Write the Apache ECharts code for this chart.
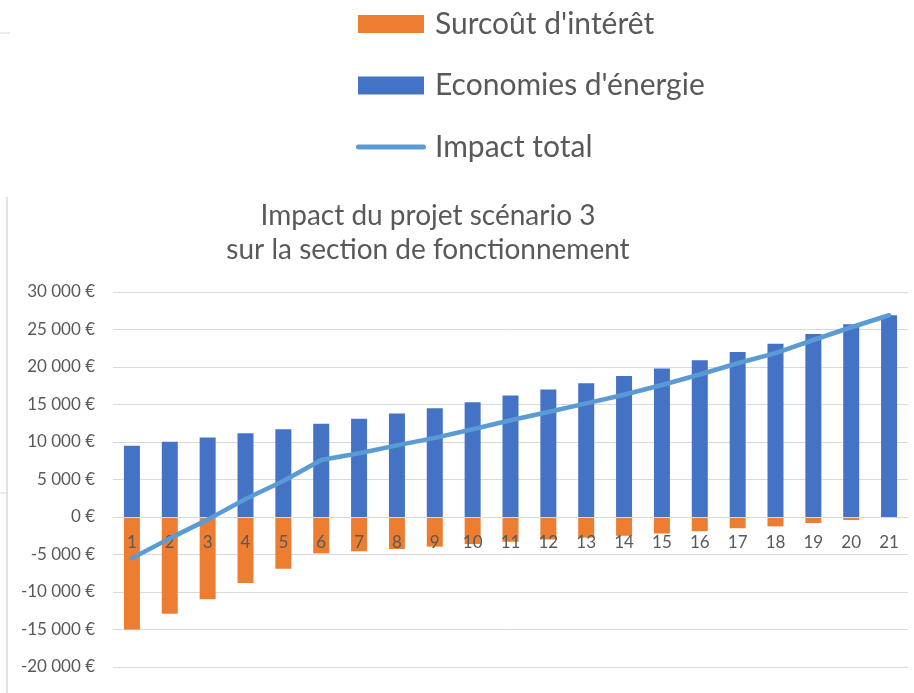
<!DOCTYPE html>
<html>
<head>
<meta charset="utf-8">
<script src="https://cdn.jsdelivr.net/npm/echarts@6/dist/echarts.min.js"></script>
<style>
  html, body { margin: 0; padding: 0; background: #fff; }
  #chart { width: 914px; height: 693px; }
</style>
</head>
<body>
<div id="chart"></div>
<script>
// années
const years = ['1', '2', '3', '4', '5', '6', '7', '8', '9', '10', '11', '12', '13', '14', '15', '16', '17', '18', '19', '20', '21'];

// surcoût d'intérêt (négatif)
const surcout = [-15000, -12900, -10950, -8800, -6900, -4850, -4570, -4260, -3950, -3600, -3300, -3000, -2750, -2500, -2200, -1900, -1500, -1250, -800, -400, 0];

// économies d'énergie
const economies = [9500, 10050, 10600, 11170, 11700, 12450, 13100, 13800, 14500, 15300, 16200, 17000, 17850, 18800, 19800, 20900, 22000, 23100, 24400, 25700, 26900];

// impact total
const impact = [-5500, -2850, -350, 2400, 4800, 7600, 8500, 9550, 10550, 11700, 12900, 14000, 15150, 16300, 17600, 19000, 20500, 21850, 23600, 25300, 26900];

const FONT = 'Lato, "Liberation Sans", sans-serif';
const GREY = '#595959';

// 30000 -> "30 000 €"
function euro(v) {
  const s = Math.abs(v).toString().replace(/\B(?=(\d{3})+(?!\d))/g, '\u202f');
  return (v < 0 ? '-' : '') + s + ' €';
}

const chart = echarts.init(document.getElementById('chart'));

const option = {
  animation: false,
  textStyle: { fontFamily: FONT },
  title: {
    text: 'Impact du projet scénario 3\nsur la section de fonctionnement',
    left: 428,
    top: 199,
    textAlign: 'center',
    padding: 0,
    textStyle: {
      fontFamily: FONT,
      fontSize: 28,
      fontWeight: 'normal',
      color: GREY,
      lineHeight: 34,
    },
  },
  legend: {
    orient: 'vertical',
    left: 356,
    top: 9,
    padding: 0,
    itemWidth: 70,
    itemHeight: 18,
    itemGap: 31.5,
    textStyle: {
      fontFamily: FONT,
      fontSize: 30,
      color: GREY,
      padding: [0, 0, 0, 4],
    },
    data: [
      { name: "Surcoût d'intérêt", icon: 'path://M2,0 L68,0 L68,18 L2,18 Z' },
      { name: "Economies d'énergie", icon: 'path://M2,0 L68,0 L68,18 L2,18 Z' },
      { name: 'Impact total', icon: 'path://M2.5,0 L67.5,0 A2.5,2.5 0 0 1 67.5,5 L2.5,5 A2.5,2.5 0 0 1 2.5,0 Z' },
    ],
  },
  grid: {
    left: 113,
    right: 6,
    top: 292,
    bottom: 26,
    outerBoundsMode: 'none',
  },
  xAxis: {
    type: 'category',
    data: years,
    // axe placé sur la ligne du zéro, libellés par-dessus les barres
    offset: -150,
    z: 3,
    axisLine: { show: true, onZero: false, lineStyle: { color: '#d9d9d9', width: 1 } },
    axisTick: { show: false },
    axisLabel: {
      margin: 17,
      fontSize: 17,
      color: GREY,
      fontFamily: FONT,
    },
  },
  yAxis: {
    type: 'value',
    min: -20000,
    max: 30000,
    interval: 5000,
    axisLine: { show: false },
    axisTick: { show: false },
    axisLabel: {
      margin: 18,
      fontSize: 17,
      color: GREY,
      fontFamily: FONT,
      formatter: euro,
    },
    splitLine: { lineStyle: { color: '#d9d9d9', width: 1 } },
  },
  series: [
    {
      name: "Surcoût d'intérêt",
      type: 'bar',
      stack: 'total',
      barWidth: 16,
      data: surcout,
      itemStyle: { color: '#ED7D31' },
    },
    {
      name: "Economies d'énergie",
      type: 'bar',
      stack: 'total',
      barWidth: 16,
      data: economies,
      itemStyle: { color: '#4472C4' },
    },
    {
      name: 'Impact total',
      type: 'line',
      data: impact,
      symbol: 'none',
      z: 5,
      itemStyle: { color: '#5B9BD5' },
      lineStyle: { color: '#5B9BD5', width: 4.5, cap: 'round', join: 'round' },
    },
  ],
  // bordures de la capture
  graphic: [
    { type: 'line', shape: { x1: 7, y1: 197, x2: 7, y2: 693 }, style: { stroke: '#d9d9d9', lineWidth: 1.5 } },
    { type: 'line', shape: { x1: 0, y1: 33, x2: 10, y2: 33 }, style: { stroke: '#d9d9d9', lineWidth: 1 } },
    { type: 'line', shape: { x1: 0, y1: 493, x2: 8, y2: 493 }, style: { stroke: '#d9d9d9', lineWidth: 1 } },
  ],
};

chart.setOption(option);
</script>
</body>
</html>
